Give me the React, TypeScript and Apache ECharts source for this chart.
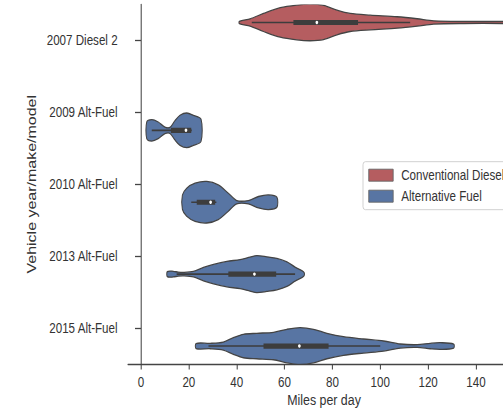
import React, { useEffect, useRef } from "react";
import * as echarts from "echarts";

// ---- data ----
const categories = ["2007 Diesel 2", "2009 Alt-Fuel", "2010 Alt-Fuel", "2013 Alt-Fuel", "2015 Alt-Fuel"];
const fuelTypes = ["Conventional Diesel", "Alternative Fuel"];
const fuelOfCategory = [0, 1, 1, 1, 1];
const xTicks = [0, 20, 40, 60, 80, 100, 120, 140];

// violin density profiles: [miles per day, density (half width)]
const density2007 = [[41.1, 1.2], [45.6, 3.7], [51.2, 9], [58.2, 14.7], [65.1, 17.3], [70.7, 18.2], [76.3, 17], [81.9, 12.3], [87.4, 9], [95.8, 7.3], [107, 5.7], [115.4, 3.7], [122.3, 1.6], [134.9, 1], [150.9, 1], [158, 0.9]];
const density2009 = [[2.4, 8.3], [4.5, 10.7], [7.2, 8.3], [10, 3.3], [12.1, 3], [14.2, 9.7], [16.3, 15], [19.1, 17.3], [21.9, 15], [25.1, 11]];
const density2010 = [[17.3, 7], [19.1, 14], [22.6, 19], [27.5, 20.7], [32.3, 17.3], [36.5, 9], [40, 1.7], [44.9, 1.7], [49.1, 5.7], [53.3, 7.3], [56.8, 5]];
const density2013 = [[11, 2.5], [13.5, 2.8], [15.5, 2], [17.7, 1.7], [21.9, 2.7], [26.1, 6.7], [30.3, 9.7], [35.9, 12.7], [41.4, 14.5], [45.6, 17], [48.4, 18.5], [52.6, 17.3], [56.8, 15.7], [61, 12.3], [64.4, 7], [67.2, 3.5], [68.2, 1.5]];
const density2015 = [[23, 2.5], [28.9, 2.7], [34.4, 4], [38.6, 8.3], [42.8, 11.7], [48.4, 12.7], [55.4, 13.7], [61, 16.7], [66.5, 18.3], [72.1, 16.7], [77.7, 12.7], [84.6, 9.3], [93, 7], [101.4, 5], [108.4, 2], [115.4, 1.3], [120.9, 2.7], [125.1, 3.3], [130.7, 2]];
const densities = [density2007, density2009, density2010, density2013, density2015];

// box stats: [whisker low, q1, median, q3, whisker high]
const boxStats = [
  [46.3, 63.7, 73.5, 90.7, 112.5],
  [4.5, 12.5, 18.8, 21, 21.2],
  [21, 23.3, 29.1, 31, 31.5],
  [14.9, 36.5, 47.4, 56.5, 64.4],
  [28.2, 51.2, 66.2, 78.4, 100],
];

const COLORS = ["#b55d60", "#5875a3"];
const EDGE = "#444444";
const BOXC = "#3d3d3d";
const FONT = "'Liberation Sans', Arial, sans-serif";
const TXT = "#333333";

function makeRender(fuel: number) {
  const idxs = categories.map((_, i) => i).filter((i) => fuelOfCategory[i] === fuel);
  const side = fuel === 0 ? -1 : 1;
  return (params: any, api: any) => {
    const cat = idxs[params.dataIndex];
    const prof = densities[cat];
    const st = boxStats[cat];
    const yc = api.coord([0, cat])[1];
    const band = api.size([0, 1])[1];
    const cy = yc + side * 0.25 * band;
    const k = band / 71.7;
    const X = (v: number) => api.coord([v, cat])[0];
    const top = prof.map(([x, w]) => [X(x), cy - w * k]);
    const bot = prof.slice().reverse().map(([x, w]) => [X(x), cy + w * k]);
    return {
      type: "group",
      children: [
        {
          type: "polygon",
          shape: { points: top.concat(bot), smooth: 0.3 },
          style: { fill: COLORS[fuel], stroke: EDGE, lineWidth: 1.3 },
        },
        {
          type: "line",
          shape: { x1: X(st[0]), y1: cy, x2: X(st[4]), y2: cy },
          style: { stroke: BOXC, lineWidth: 1.6 },
        },
        {
          type: "rect",
          shape: { x: X(st[1]), y: cy - 2.6, width: X(st[3]) - X(st[1]), height: 5.2 },
          style: { fill: BOXC },
        },
        {
          type: "circle",
          shape: { cx: X(st[2]), cy: cy, r: 1.7 },
          style: { fill: "#ffffff" },
        },
      ],
    };
  };
}

export default function App() {
  const ref = useRef<HTMLDivElement>(null);
  useEffect(() => {
    if (!ref.current) return;
    const chart = echarts.init(ref.current, null, { renderer: "svg" });
    const series = fuelTypes.map((name, f) => ({
      type: "custom",
      name,
      clip: true,
      itemStyle: { color: COLORS[f] },
      renderItem: makeRender(f),
      encode: { x: 0, y: 1 },
      data: categories
        .map((_, i) => i)
        .filter((i) => fuelOfCategory[i] === f)
        .map((i) => [boxStats[i][2], i]),
    }));
    chart.setOption({
      animation: false,
      backgroundColor: "#ffffff",
      grid: { left: 160, right: 0, top: 4.5, bottom: 46, containLabel: false, outerBoundsMode: "none" },
      legend: {
        orient: "vertical",
        left: 453.75,
        top: 161.7,
        padding: [6, 8, 6, 6.7],
        itemWidth: 30.5,
        itemHeight: 12,
        itemGap: 6,
        icon: "rect",
        borderColor: "#cccccc",
        borderWidth: 1,
        borderRadius: 3,
        backgroundColor: "rgba(255,255,255,0.8)",
        textStyle: { fontFamily: FONT, fontSize: 14.5, color: TXT, padding: [0, 0, 0, 5], lineHeight: 15 },
        data: fuelTypes.map((n) => ({ name: n, itemStyle: { borderColor: "#666666", borderWidth: 1 } })),
      },
      xAxis: {
        type: "value",
        min: -5.43,
        max: 158.4,
        name: "Miles per day",
        nameLocation: "middle",
        nameGap: 27,
        nameMoveOverlap: false,
        nameTextStyle: { fontFamily: FONT, fontSize: 15.5, lineHeight: 16, color: TXT },
        axisLine: { show: true, lineStyle: { color: "#444", width: 1.3 } },
        axisTick: { show: true, length: 5.5, lineStyle: { color: "#444", width: 1.3 }, customValues: xTicks },
        axisLabel: { fontFamily: FONT, fontSize: 14.5, color: TXT, margin: 11, customValues: xTicks },
        splitLine: { show: false },
      },
      yAxis: {
        type: "category",
        data: categories,
        inverse: true,
        name: "Vehicle year/make/model",
        nameLocation: "middle",
        nameGap: 112,
        nameMoveOverlap: false,
        nameTextStyle: { fontFamily: FONT, fontSize: 16, color: TXT },
        axisLine: { show: true, lineStyle: { color: "#444", width: 1.3 } },
        axisTick: { show: true, alignWithLabel: true, length: 7.5, lineStyle: { color: "#444", width: 1.3 } },
        axisLabel: { fontFamily: FONT, fontSize: 14.5, color: TXT, margin: 13 },
        splitLine: { show: false },
      },
      series,
    });
    return () => chart.dispose();
  }, []);
  return (
    <div style={{ position: "fixed", left: 0, top: 0, width: 503, height: 410, overflow: "hidden", background: "#fff" }}>
      <div ref={ref} style={{ width: 650, height: 410, transform: "scaleX(0.8)", transformOrigin: "0 0" }} />
    </div>
  );
}
